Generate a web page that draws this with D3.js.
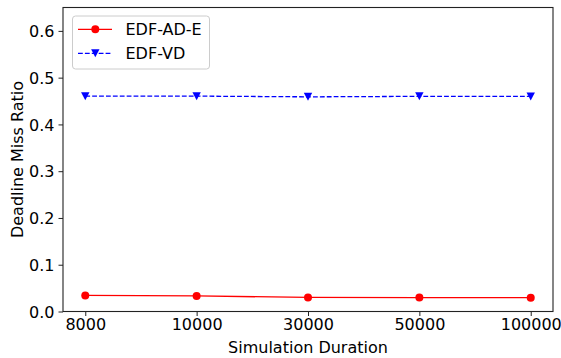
<!DOCTYPE html>
<html>
<head>
<meta charset="utf-8">
<script src="https://cdn.jsdelivr.net/npm/d3@7"></script>
<style>
  body { margin: 0; background: #fff; }
  text { font-family: "DejaVu Sans", sans-serif; fill: #000; }
</style>
</head>
<body>
<div id="wrapper"></div>
<script>
const durations = ["8000", "10000", "30000", "50000", "100000"];
const edfAdE = [0.0343, 0.0334, 0.0300, 0.0298, 0.0295];
const edfVd = [0.4605, 0.4605, 0.4590, 0.4600, 0.4598];
const yTicks = [0.0, 0.1, 0.2, 0.3, 0.4, 0.5, 0.6];

function drawChart() {
  let dimensions = {
    width: 561,
    height: 358,
    margin: { top: 7.5, right: 8, bottom: 46.5, left: 63 }
  };
  dimensions.boundedWidth =
    dimensions.width - dimensions.margin.left - dimensions.margin.right;
  dimensions.boundedHeight =
    dimensions.height - dimensions.margin.top - dimensions.margin.bottom;

  const wrapper = d3
    .select("#wrapper")
    .append("svg")
    .attr("width", dimensions.width)
    .attr("height", dimensions.height);
  const bounds = wrapper
    .append("g")
    .attr("transform", `translate(${dimensions.margin.left},${dimensions.margin.top})`);

  // categorical positions, matplotlib style limits
  const xScale = d3
    .scaleLinear()
    .domain([-0.2, durations.length - 0.8])
    .range([0, dimensions.boundedWidth]);
  const yScale = d3
    .scaleLinear()
    .domain([0, 0.65])
    .range([dimensions.boundedHeight, 0]);

  const xAxis = bounds
    .append("g")
    .attr("transform", `translate(0,${dimensions.boundedHeight})`)
    .call(
      d3.axisBottom(xScale)
        .tickValues(d3.range(durations.length))
        .tickFormat(i => durations[i])
        .tickSizeInner(4.5)
        .tickSizeOuter(0)
        .tickPadding(3)
    );
  const yAxis = bounds
    .append("g")
    .call(
      d3.axisLeft(yScale)
        .tickValues(yTicks)
        .tickFormat(d3.format(".1f"))
        .tickSizeInner(4.5)
        .tickSizeOuter(0)
        .tickPadding(4)
    );
  [xAxis, yAxis].forEach(ax => {
    ax.select(".domain").remove();
    ax.selectAll(".tick line").attr("stroke", "#222").attr("stroke-width", 1);
    ax.selectAll(".tick text")
      .style("font-size", "16px")
      .style("font-family", "DejaVu Sans, sans-serif")
      .attr("fill", "#000");
  });
  yAxis.selectAll(".tick text").attr("dy", "0.36em");

  bounds
    .append("rect")
    .attr("width", dimensions.boundedWidth)
    .attr("height", dimensions.boundedHeight)
    .attr("fill", "none")
    .attr("stroke", "#222")
    .attr("stroke-width", 1.1);

  const line = d3
    .line()
    .x((d, i) => xScale(i))
    .y(d => yScale(d));

  bounds
    .append("path")
    .datum(edfAdE)
    .attr("d", line)
    .attr("fill", "none")
    .attr("stroke", "red")
    .attr("stroke-width", 1.3);
  bounds
    .selectAll(".dot-red")
    .data(edfAdE)
    .enter()
    .append("circle")
    .attr("cx", (d, i) => xScale(i))
    .attr("cy", d => yScale(d))
    .attr("r", 4)
    .attr("fill", "red");

  bounds
    .append("path")
    .datum(edfVd)
    .attr("d", line)
    .attr("fill", "none")
    .attr("stroke", "blue")
    .attr("stroke-width", 1.3)
    .attr("stroke-dasharray", "4.8,2.1");
  // downward triangle like matplotlib "v"
  const tri = "M-4.2,-4L4.2,-4L0,4Z";
  bounds
    .selectAll(".dot-blue")
    .data(edfVd)
    .enter()
    .append("path")
    .attr("d", tri)
    .attr("transform", (d, i) => `translate(${xScale(i)},${yScale(d)})`)
    .attr("fill", "blue");

  // legend
  const legend = wrapper.append("g").attr("transform", "translate(72.5,16)");
  legend
    .append("rect")
    .attr("width", 137)
    .attr("height", 53)
    .attr("rx", 3)
    .attr("fill", "#fff")
    .attr("fill-opacity", 0.8)
    .attr("stroke", "#ccc")
    .attr("stroke-width", 1);
  const legendItems = [
    { label: "EDF-AD-E", color: "red", dash: null, marker: "circle" },
    { label: "EDF-VD", color: "blue", dash: "4.8,2.1", marker: "tri" }
  ];
  legendItems.forEach((item, i) => {
    const row = legend.append("g").attr("transform", `translate(0,${13.3 + i * 24})`);
    row
      .append("line")
      .attr("x1", 5.5)
      .attr("x2", 39.5)
      .attr("stroke", item.color)
      .attr("stroke-width", 1.3)
      .attr("stroke-dasharray", item.dash);
    if (item.marker === "circle") {
      row.append("circle").attr("cx", 22.8).attr("r", 4).attr("fill", item.color);
    } else {
      row
        .append("path")
        .attr("d", tri)
        .attr("transform", "translate(22.8,0)")
        .attr("fill", item.color);
    }
    row
      .append("text")
      .attr("x", 53)
      .attr("dy", "0.36em")
      .style("font-size", "16px")
      .text(item.label);
  });

  // axis labels
  wrapper
    .append("text")
    .attr("x", dimensions.margin.left + dimensions.boundedWidth / 2)
    .attr("y", 352.5)
    .attr("text-anchor", "middle")
    .style("font-size", "16px")
    .text("Simulation Duration");
  wrapper
    .append("text")
    .attr("transform", `translate(23,${dimensions.margin.top + dimensions.boundedHeight / 2}) rotate(-90)`)
    .attr("text-anchor", "middle")
    .style("font-size", "16px")
    .text("Deadline Miss Ratio");
}

drawChart();
</script>
</body>
</html>
